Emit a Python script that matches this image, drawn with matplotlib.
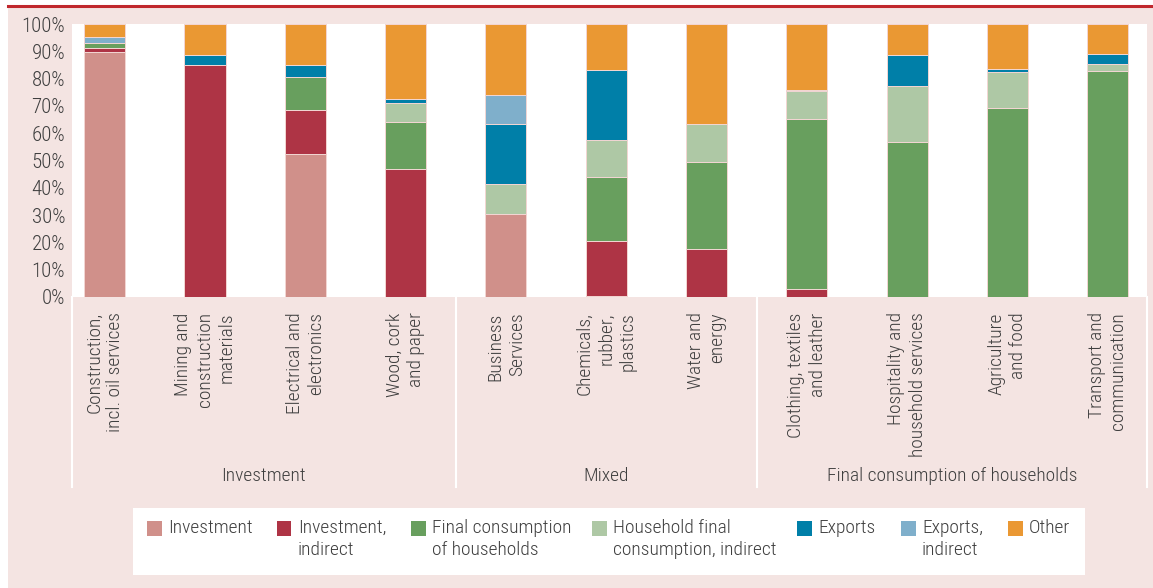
import matplotlib
matplotlib.use("Agg")
import matplotlib.pyplot as plt
from matplotlib.patches import Rectangle
from matplotlib.lines import Line2D
import numpy as np

plt.rcParams['font.family'] = ["Roboto Condensed", "DejaVu Sans"]
plt.rcParams['font.weight'] = 300

categories = [
    "Construction,\nincl. oil services",
    "Mining and\nconstruction\nmaterials",
    "Electrical and\nelectronics",
    "Wood, cork\nand paper",
    "Business\nServices",
    "Chemicals,\nrubber,\nplastics",
    "Water and\nenergy",
    "Clothing, textiles\nand leather",
    "Hospitality and\nhousehold services",
    "Agriculture\nand food",
    "Transport and\ncommunication",
]
groups = ["Investment", "Mixed", "Final consumption of households"]
group_sizes = [4, 3, 4]

series_names = ["Investment", "Investment,\nindirect", "Final consumption\nof households",
                "Household final\nconsumption, indirect", "Exports", "Exports,\nindirect", "Other"]
investment          = [89.6, 0.0, 52.3, 0.0, 30.5, 0.3, 0.0, 0.0, 0.0, 0.0, 0.0]
investment_indirect = [1.5, 84.9, 16.3, 47.0, 0.0, 20.2, 17.6, 2.8, 0.0, 0.0, 0.0]
final_consumption   = [2.1, 0.0, 12.0, 17.0, 0.0, 23.6, 32.0, 62.5, 56.9, 69.2, 82.9]
household_indirect  = [0.0, 0.0, 0.0, 7.1, 11.0, 13.5, 13.8, 10.0, 20.4, 13.3, 2.4]
exports             = [0.0, 3.6, 4.4, 1.3, 22.0, 25.4, 0.0, 0.5, 11.2, 1.1, 3.6]
exports_indirect    = [1.9, 0.0, 0.0, 0.0, 10.5, 0.0, 0.0, 0.0, 0.0, 0.0, 0.0]
other               = [4.9, 11.5, 15.0, 27.6, 26.0, 17.0, 36.6, 24.2, 11.5, 16.4, 11.1]
yticks = list(range(0, 101, 10))

colors = ["#D0908A", "#AE3445", "#689F5E", "#AEC8A5", "#007FA8", "#7FAFCB", "#EA9833"]
series = [investment, investment_indirect, final_consumption, household_indirect,
          exports, exports_indirect, other]

W, H = 1153, 588
PINK = "#F4E4E2"
TXT = "#3f3f3f"
FS = 14
fig = plt.figure(figsize=(W / 100, H / 100), dpi=100)
fig.patch.set_facecolor("white")

def fx(px):
    return px / W

def fy(py):
    return 1 - py / H

# background
fig.add_artist(Rectangle((fx(8), 0), fx(1153 - 8), 1 - 7 / H,
                         transform=fig.transFigure, facecolor=PINK, edgecolor="none", zorder=0))
fig.add_artist(Line2D([fx(8), 1], [fy(5.5), fy(5.5)], transform=fig.transFigure,
                      color="#C0272D", lw=2.2, zorder=1))

ax = fig.add_axes([fx(72), fy(297), fx(1147 - 72), (297 - 24) / H])
ax.set_facecolor("white")
x = np.arange(len(categories))
bottom = np.zeros(len(categories))
for vals, c in zip(series, colors):
    vals = np.array(vals)
    ax.bar(x, vals, 0.41, bottom=bottom, color=c, edgecolor="#f3d6d3", linewidth=0.7, zorder=2)
    bottom += vals

ax.set_xlim(-0.326, 10.392)
ax.set_ylim(0, 100)
for s in ax.spines.values():
    s.set_visible(False)
ax.set_yticks(yticks)
ax.set_yticklabels([f"{t}%" for t in yticks], fontsize=15, color=TXT)
ax.tick_params(axis="y", length=0, pad=5)
ax.set_xticks(x)
ax.set_xticklabels(categories, rotation=90, fontsize=FS, color=TXT,
                   multialignment="right", linespacing=1.25)
ax.tick_params(axis="x", length=0, pad=11)

# group separators and labels
tr = ax.get_xaxis_transform()
ybot = (297 - 487) / 273
edges = [-0.326]
pos = -0.5
for n in group_sizes:
    pos += n
    edges.append(pos)
edges[-1] = 10.392
for e in edges:
    ax.plot([e, e], [0, ybot], transform=tr, color="white", lw=1.5, clip_on=False, zorder=1)
for g, a, b in zip(groups, edges[:-1], edges[1:]):
    ax.text((a + b) / 2, (297 - 476) / 273, g, transform=tr, ha="center", va="center",
            fontsize=FS, color=TXT)

# legend box
fig.add_artist(Rectangle((fx(133), fy(575)), fx(1085 - 133), (575 - 508) / H,
                         transform=fig.transFigure, facecolor="white", edgecolor="none", zorder=1))
sq_x = [147, 277, 411, 592, 797, 901, 1008]
for sx, c, name in zip(sq_x, colors, series_names):
    fig.add_artist(Rectangle((fx(sx), fy(536)), fx(14.5), 15 / H, transform=fig.transFigure,
                             facecolor=c, edgecolor="none", zorder=2))
    fig.text(fx(sx + 21), fy(519), name, ha="left", va="top", fontsize=FS, color=TXT,
             linespacing=1.3, zorder=3)

fig.savefig("out.png", dpi=100, facecolor=fig.get_facecolor())
